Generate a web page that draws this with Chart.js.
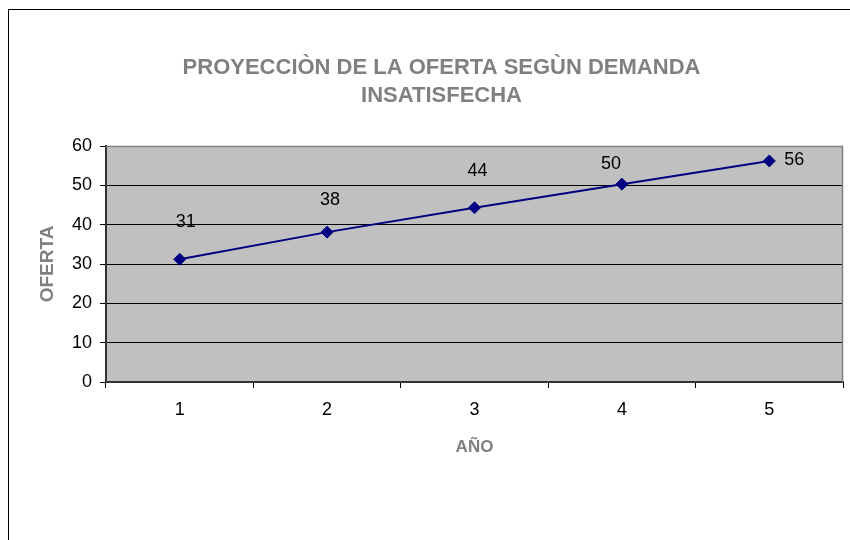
<!DOCTYPE html>
<html>
<head>
<meta charset="utf-8">
<script src="https://cdn.jsdelivr.net/npm/chart.js@4"></script>
<style>
  body { margin: 0; background: #fff; }
</style>
</head>
<body>
<canvas id="oferta" width="850" height="540"></canvas>
<script>
// proyeccion de la oferta
const years = ["1", "2", "3", "4", "5"];
const oferta = [31.2, 38.1, 44.3, 50.3, 56.2];
const yTicks = [0, 10, 20, 30, 40, 50, 60];
const titleLines = ["PROYECCIÒN DE LA OFERTA SEGÙN DEMANDA", "INSATISFECHA"];

// ajustes manuales de las etiquetas (como en la hoja original)
const labelShift = [[6, -37], [3, -32], [3, -37], [-11, -20], [25, -1]];

const decoPlugin = {
  id: "deco",
  beforeDraw(chart) {
    const { ctx, chartArea: a } = chart;
    ctx.save();
    ctx.fillStyle = "#fff";
    ctx.fillRect(0, 0, chart.width, chart.height);
    ctx.strokeStyle = "#000";
    ctx.lineWidth = 1;
    ctx.strokeRect(8.5, 9.5, 1000, 1000);
    ctx.fillStyle = "#c0c0c0";
    ctx.fillRect(a.left, a.top, a.right - a.left, a.bottom - a.top);
    ctx.restore();
  },
  beforeDatasetsDraw(chart) {
    const { ctx, chartArea: a } = chart;
    ctx.save();
    ctx.strokeStyle = "#808080";
    ctx.lineWidth = 1.5;
    ctx.beginPath();
    ctx.moveTo(a.left, a.top + 0.5);
    ctx.lineTo(a.right - 0.5, a.top + 0.5);
    ctx.lineTo(a.right - 0.5, a.bottom);
    ctx.stroke();
    ctx.restore();
  },
  afterDraw(chart) {
    const ctx = chart.ctx;
    ctx.save();
    ctx.fillStyle = "#808080";
    ctx.font = "bold 22px 'Liberation Sans', Arial, sans-serif";
    ctx.textAlign = "center";
    ctx.textBaseline = "middle";
    titleLines.forEach((t, i) => ctx.fillText(t, 441.5, 68 + i * 28));

    // etiquetas de datos
    const meta = chart.getDatasetMeta(0);
    ctx.fillStyle = "#000";
    ctx.font = "18px 'Liberation Sans', Arial, sans-serif";
    meta.data.forEach((pt, i) => {
      const s = labelShift[i];
      ctx.fillText(Math.round(oferta[i]).toString(), pt.x + s[0], pt.y + s[1]);
    });
    ctx.restore();
  },
};

new Chart(document.getElementById("oferta"), {
  type: "line",
  data: {
    labels: years,
    datasets: [
      {
        label: "Oferta",
        data: oferta,
        borderColor: "#000080",
        backgroundColor: "#000080",
        borderWidth: 2,
        pointStyle: "rectRot",
        pointRadius: 6,
        pointBorderWidth: 1,
        tension: 0,
      },
    ],
  },
  plugins: [decoPlugin],
  options: {
    responsive: false,
    animation: false,
    devicePixelRatio: 1,
    layout: {
      padding: { top: 146, right: 6, left: 0, bottom: 0 },
    },
    plugins: {
      legend: { display: false },
      tooltip: { enabled: false },
    },
    scales: {
      x: {
        type: "category",
        offset: true,
        afterFit: (s) => { s.height = 158; },
        grid: {
          offset: true,
          drawOnChartArea: false,
          tickLength: 6,
          color: "#000",
        },
        border: { color: "#333", width: 2 },
        ticks: {
          color: "#000",
          padding: 11,
          font: { family: "'Liberation Sans', Arial", size: 18 },
        },
        title: {
          display: true,
          text: "AÑO",
          color: "#808080",
          font: { family: "'Liberation Sans', Arial", size: 17, weight: "bold" },
          padding: { top: 0, bottom: 82 },
        },
      },
      y: {
        min: 0,
        max: 60,
        afterFit: (s) => { s.width = 106; },
        afterBuildTicks: (s) => { s.ticks = yTicks.map((v) => ({ value: v })); },
        grid: {
          color: (c) => (c.tick && c.tick.value === 60 ? "#808080" : "#000"),
          tickColor: "#000",
          tickLength: 6,
          lineWidth: 1,
        },
        border: { color: "#333", width: 2 },
        ticks: {
          color: "#000",
          padding: 8,
          font: { family: "'Liberation Sans', Arial", size: 18 },
        },
        title: {
          display: true,
          text: "OFERTA",
          color: "#808080",
          font: { family: "'Liberation Sans', Arial", size: 19, weight: "bold" },
          padding: { top: 36, bottom: 0 },
        },
      },
    },
  },
});
</script>
</body>
</html>
